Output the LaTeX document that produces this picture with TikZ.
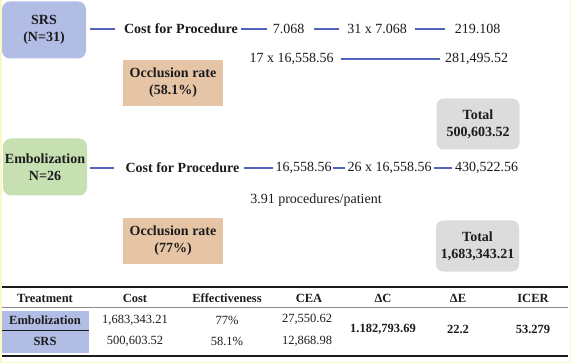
\documentclass[tikz,border=0pt]{standalone}
\usepackage{fontspec}
\setmainfont{Liberation Serif}
\definecolor{srsblue}{RGB}{178,189,230}
\definecolor{embgreen}{RGB}{198,224,178}
\definecolor{peach}{RGB}{230,197,166}
\definecolor{totgray}{RGB}{220,220,220}
\definecolor{linkc}{RGB}{82,100,186}
\definecolor{txt}{RGB}{28,28,28}
\definecolor{edgey}{RGB}{250,248,200}
\begin{document}
\begin{tikzpicture}[x=1pt,y=-1pt,
  every node/.style={text=txt, inner sep=0pt},
  plain/.style={font=\fontsize{14}{16}\selectfont},
  bold/.style={font=\bfseries\fontsize{14}{16}\selectfont},
  grp/.style={rounded corners=8pt, minimum width=84pt, minimum height=57pt, align=center, font=\bfseries\fontsize{14}{17}\selectfont},
  occ/.style={fill=peach, minimum width=100pt, minimum height=46pt, align=center, font=\bfseries\fontsize{14}{17}\selectfont},
  tot/.style={fill=totgray, rounded corners=7pt, minimum width=83pt, minimum height=51pt, align=center, font=\bfseries\fontsize{14}{16.5}\selectfont},
  link/.style={draw=linkc, line width=1.4pt},
  th/.style={font=\bfseries\fontsize{12.5}{14}\selectfont},
  td/.style={font=\fontsize{12.5}{14}\selectfont},
  tb/.style={font=\bfseries\fontsize{12.5}{14}\selectfont},
  rule/.style={draw=txt, line width=2pt}
]
\useasboundingbox (0,0) rectangle (572,363);
\fill[white] (0,0) rectangle (572,363);
\draw[edgey, line width=1.5pt] (0.75,0) -- (0.75,362.25) -- (570.5,362.25) -- (570.5,0);

% SRS branch
\node[grp, fill=srsblue] (srs) at (44,30) {SRS\\(N=31)};
\node[bold] (cost1) at (181,29) {Cost for Procedure};
\node[plain] (v1) at (288.5,29) {7.068};
\node[plain] (v2) at (377,29) {31 x 7.068};
\node[plain] (v3) at (477.5,29) {219.108};
\node[plain] (r2a) at (291.5,59) {17 x 16,558.56};
\node[plain] (r2b) at (476.5,59) {281,495.52};
\node[occ] (occ1) at (173,83) {Occlusion rate\\(58.1\%)};
\node[tot] (tot1) at (478,124) {Total\\500,603.52};

\draw[link, shorten <=4pt, shorten >=9pt] (srs.east |- cost1.west) -- (cost1.west);
\draw[link, shorten <=3pt, shorten >=6pt] (cost1) -- (v1);
\draw[link, shorten <=10pt, shorten >=8pt] (v1) -- (v2);
\draw[link, shorten <=8pt, shorten >=10pt] (v2) -- (v3);
\draw[link, shorten <=7pt, shorten >=5pt] (r2a) -- (r2b);

% Embolization branch
\node[grp, fill=embgreen] (emb) at (45,167) {Embolization\\N=26};
\node[bold] (cost2) at (182.5,168) {Cost for Procedure};
\node[plain] (e1) at (303.5,168) {16,558.56};
\node[plain] (e2) at (389.5,168) {26 x 16,558.56};
\node[plain] (e3) at (486.5,168) {430,522.56};
\node[plain] (proc) at (316,200) {3.91 procedures/patient};
\node[occ] (occ2) at (173,241) {Occlusion rate\\(77\%)};
\node[tot] (tot2) at (477.5,246) {Total\\1,683,343.21};

\draw[link, shorten <=3pt, shorten >=11pt] (emb.east |- cost2.west) -- (cost2.west);
\draw[link, shorten <=4pt, shorten >=2pt] (cost2) -- (e1);
\draw[link, shorten <=1pt, shorten >=2pt] (e1) -- (e2);
\draw[link, shorten <=2pt, shorten >=3pt] (e2) -- (e3);

% Table
\fill[srsblue] (2,311) rectangle (89,353);
\draw[txt, line width=1pt] (2,330) -- (89,330);
\draw[rule] (2,287) -- (568,287);
\draw[black!45, line width=0.8pt] (2,307) -- (568,307);
\draw[rule] (2,355.5) -- (568,355.5);

\node[th] (h1) at (45,298) {Treatment};
\node[th] (h2) at (135,298) {Cost};
\node[th] (h3) at (227,298) {Effectiveness};
\node[th] (h4) at (309,298) {CEA};
\node[th] (h5) at (383,298) {ΔC};
\node[th] (h6) at (458,298) {ΔE};
\node[th] (h7) at (533,298) {ICER};

\node[tb] (a1) at (45,320) {Embolization};
\node[td] (a2) at (135,320) {1,683,343.21};
\node[td] (a3) at (227,320) {77\%};
\node[td] (a4) at (307,319) {27,550.62};
\node[tb] (b1) at (45,341) {SRS};
\node[td] (b2) at (135,341) {500,603.52};
\node[td] (b3) at (227,341) {58.1\%};
\node[td] (b4) at (307,341) {12,868.98};
\node[tb] (c5) at (383,329) {1.182,793.69};
\node[tb] (c6) at (458,329) {22.2};
\node[tb] (c7) at (533,329) {53.279};
\end{tikzpicture}
\end{document}
